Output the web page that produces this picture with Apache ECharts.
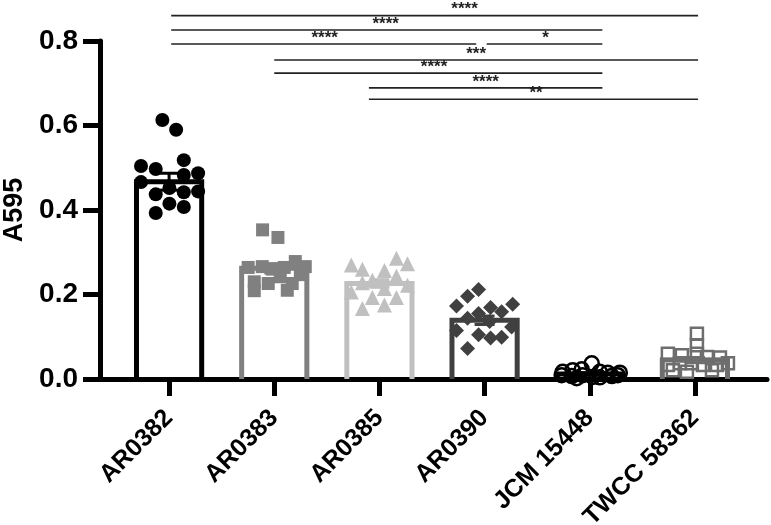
<!DOCTYPE html>
<html><head><meta charset="utf-8">
<script src="https://cdn.jsdelivr.net/npm/echarts@6/dist/echarts.min.js"></script>
<style>html,body{margin:0;padding:0;background:#fff}#c{width:771px;height:525px}</style>
</head><body><div id="c"></div>
<script>
// ---- data ----
const categories = ['AR0382','AR0383','AR0385','AR0390','JCM 15448','TWCC 58362'];
const means = [0.467, 0.262, 0.226, 0.139, 0.012, 0.045];
const sems  = [0.020, 0.011, 0.009, 0.010, 0.003, 0.006];

const ar0382Values = [0.613,0.590,0.518,0.504,0.497,0.487,0.483,0.466,0.452,0.442,0.444,0.437,0.415,0.407,0.393];
const ar0382Jitter = [-0.064,0.067,0.14,-0.267,-0.127,0.276,0.14,-0.267,0.003,0.14,0.276,-0.127,0.003,0.14,-0.127];
const ar0383Values = [0.353,0.335,0.278,0.264,0.266,0.260,0.264,0.266,0.230,0.226,0.242,0.226,0.209,0.210,0.247];
const ar0383Jitter = [-0.111,0.035,0.2,-0.248,-0.114,-0.019,0.095,0.295,-0.19,-0.057,0.057,0.171,-0.19,0.124,0.248];
const ar0385Values = [0.286,0.270,0.273,0.260,0.257,0.243,0.234,0.228,0.222,0.206,0.214,0.193,0.193,0.167,0.175];
const ar0385Jitter = [0.162,-0.267,0.267,-0.162,0.048,0.162,-0.067,-0.162,0.267,-0.267,0.048,-0.067,0.162,-0.162,0.048];
const ar0390Values = [0.212,0.196,0.173,0.177,0.169,0.159,0.155,0.144,0.136,0.115,0.105,0.097,0.099,0.123,0.072];
const ar0390Jitter = [-0.057,-0.162,-0.267,0.267,0.057,0.162,-0.057,-0.162,0.048,-0.267,-0.057,0.057,0.162,0.257,-0.162];
const jcmValues = [0.037,0.017,0.021,0.023,0.017,0.015,0.015,0.009,0.007,0.009,0.005,0.004,0.007,0.009,0.002];
const jcmJitter = [0.019,-0.257,-0.162,-0.076,0.095,0.171,0.286,-0.267,-0.171,-0.067,0.029,0.095,0.21,0.267,-0.124];
const twccValues = [0.107,0.080,0.060,0.060,0.056,0.052,0.051,0.033,0.037,0.037,0.033,0.033,0.037,0.021,0.017,0.021];
const twccJitter = [0.019,0.019,0.019,-0.257,-0.124,0.114,0.238,-0.257,-0.143,-0.029,0.076,0.21,0.314,-0.21,-0.076,0.162];

// significance brackets (x in category units, level in A595 units)
const bracketFrom  = [0.02, 0.02, 0.02, 3.02, 1.0, 1.0, 1.9, 1.9];
const bracketTo    = [5.03, 4.12, 2.92, 4.12, 5.03, 4.12, 4.12, 5.03];
const bracketLevel = [0.860, 0.826, 0.793, 0.793, 0.755, 0.724, 0.689, 0.662];
const bracketLabelX= [2.81, 2.06, 1.48, 3.58, 2.92, 2.52, 3.01, 3.49];
const bracketText  = ['****','****','****','*','***','****','****','**'];

// ---- styles ----
const FONT = '"Liberation Sans", Arial, sans-serif';
const groupColors = ['#000000','#808080','#c0c0c0','#404040','#000000','#6e6e6e'];
const BAR_HALF = 0.31; // half bar width, fraction of category band

const groups = [
  {v: ar0382Values, j: ar0382Jitter, symbol:'circle', size:14, fill:true},
  {v: ar0383Values, j: ar0383Jitter, symbol:'rect', size:13, fill:true},
  {v: ar0385Values, j: ar0385Jitter, symbol:'triangle', size:15, fill:true},
  {v: ar0390Values, j: ar0390Jitter, symbol:'diamond', size:15, fill:true},
  {v: jcmValues, j: jcmJitter, symbol:'circle', size:14, fill:false},
  {v: twccValues, j: twccJitter, symbol:'rect', size:12, fill:false}
];

const chart = echarts.init(document.getElementById('c'), null, {renderer:'canvas'});

const scatterSeries = groups.map((g, i) => ({
  type:'scatter', xAxisIndex:2, yAxisIndex:1, z:5,
  symbol:g.symbol, symbolSize:g.size,
  data: g.v.map((val, k) => [i + g.j[k], val]),
  itemStyle: g.fill ? {color: groupColors[i], opacity:1}
                    : {color:'rgba(255,255,255,0)', borderColor: groupColors[i], borderWidth:2.5, opacity:1},
  silent:true, animation:false
}));

const option = {
  animation:false,
  grid:[
    {left:100, right:4, top:41, bottom:146, outerBoundsMode:'none', containLabel:false},
    {left:116.5, right:23.5, top:41, bottom:146, outerBoundsMode:'none', containLabel:false}
  ],
  xAxis:[
    {gridIndex:0, type:'value', min:0, max:1, show:true,
     axisLine:{show:true, lineStyle:{color:'#000', width:5}},
     axisTick:{show:false}, axisLabel:{show:false}, splitLine:{show:false}},
    {gridIndex:1, type:'category', data:categories, boundaryGap:true,
     axisLine:{show:false},
     axisTick:{show:true, alignWithLabel:true, length:17, lineStyle:{color:'#000', width:5}},
     axisLabel:{rotate:45, margin:35, color:'#000', fontSize:25, fontWeight:'bold', fontFamily:FONT, interval:0},
     splitLine:{show:false}},
    {gridIndex:1, type:'value', min:-0.5, max:5.5, show:false}
  ],
  yAxis:[
    {gridIndex:0, type:'value', min:0, max:0.8, interval:0.2,
     name:'A595', nameLocation:'middle', nameGap:61,
     nameTextStyle:{fontSize:27, fontWeight:'bold', fontFamily:FONT, color:'#000'},
     axisLine:{show:true, lineStyle:{color:'#000', width:5}},
     axisTick:{show:true, length:17, lineStyle:{color:'#000', width:5}},
     axisLabel:{margin:22, color:'#000', fontSize:28, fontWeight:'bold', fontFamily:FONT,
       formatter: v => v.toFixed(1)},
     splitLine:{show:false}},
    {gridIndex:1, type:'value', min:0, max:0.8, interval:0.2, show:false}
  ],
  series:[
    {type:'custom', xAxisIndex:2, yAxisIndex:1, z:2, silent:true,
     data: means.map((m, i) => [i, m]),
     renderItem: function(params, api){
       const x = api.value(0), m = api.value(1);
       const p0 = api.coord([x - BAR_HALF, 0]), p1 = api.coord([x - BAR_HALF, m]);
       const p2 = api.coord([x + BAR_HALF, m]), p3 = api.coord([x + BAR_HALF, 0]);
       return {type:'polyline', shape:{points:[p0, p1, p2, p3]},
         style:{stroke:groupColors[params.dataIndex], lineWidth:5, fill:null, lineJoin:'miter'}};
     }},
    {type:'custom', xAxisIndex:2, yAxisIndex:1, z:3, silent:true,
     data: means.map((m, i) => [i, m, sems[i]]),
     renderItem: function(params, api){
       const x = api.value(0), m = api.value(1), s = api.value(2);
       const t = api.coord([x, m + s]), b = api.coord([x, m - s]);
       const col = groupColors[params.dataIndex];
       const st = {stroke:col, lineWidth:3};
       return {type:'group', children:[
         {type:'line', shape:{x1:t[0], y1:t[1], x2:b[0], y2:b[1]}, style:st},
         {type:'line', shape:{x1:t[0]-10, y1:t[1], x2:t[0]+10, y2:t[1]}, style:st},
         {type:'line', shape:{x1:b[0]-10, y1:b[1], x2:b[0]+10, y2:b[1]}, style:st}
       ]};
     }},
    ...scatterSeries,
    {type:'custom', xAxisIndex:2, yAxisIndex:1, z:6, silent:true, clip:false,
     data: bracketFrom.map((f, i) => [f, bracketTo[i], bracketLevel[i], bracketLabelX[i], i]),
     renderItem: function(params, api){
       const a = api.coord([api.value(0), api.value(2)]);
       const b = api.coord([api.value(1), api.value(2)]);
       const l = api.coord([api.value(3), api.value(2)]);
       return {type:'group', children:[
         {type:'line', shape:{x1:a[0], y1:a[1], x2:b[0], y2:b[1]}, style:{stroke:'#222', lineWidth:1.6}},
         {type:'text', x:l[0], y:a[1]-6, style:{text:bracketText[params.dataIndex], fill:'#222',
           fontSize:17, fontWeight:'bold', fontFamily:FONT, align:'center', verticalAlign:'middle'}}
       ]};
     }}
  ]
};
chart.setOption(option);
</script></body></html>
